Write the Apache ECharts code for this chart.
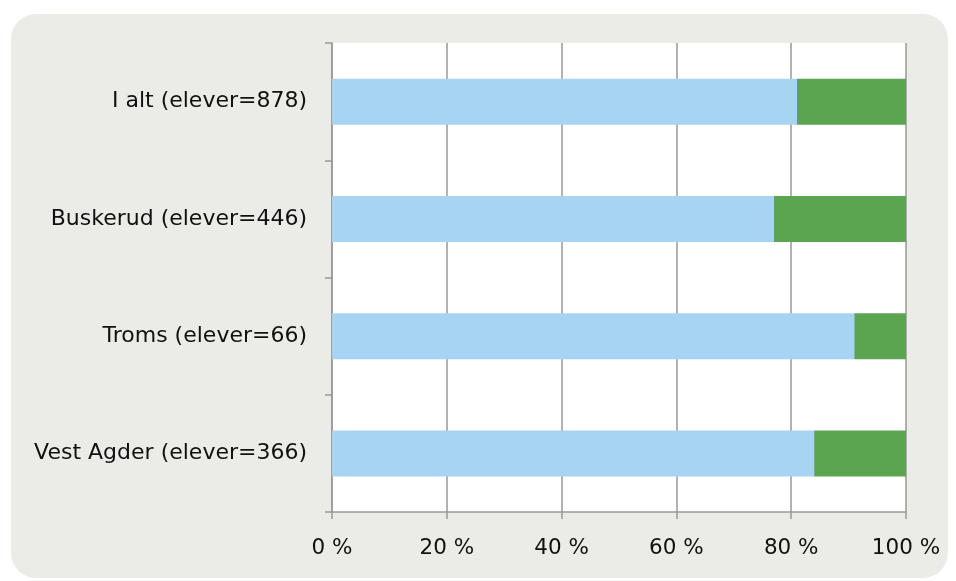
<!DOCTYPE html>
<html><head><meta charset="utf-8">
<script src="https://cdn.jsdelivr.net/npm/echarts@6/dist/echarts.min.js"></script>
<style>html,body{margin:0;padding:0;background:#fff}#c{width:956px;height:581px}</style>
</head><body><div id="c"></div>
<script>
const categories = ['I alt (elever=878)', 'Buskerud (elever=446)', 'Troms (elever=66)', 'Vest Agder (elever=366)'];
const seriesA = [81, 77, 91, 84];
const seriesB = [19, 23, 9, 16];
const xTicks = [0, 20, 40, 60, 80, 100];

const chart = echarts.init(document.getElementById('c'), null, {renderer: 'canvas'});
const font = "'DejaVu Sans', sans-serif";
chart.setOption({
  animation: false,
  graphic: [{
    type: 'rect', z: -10, silent: true,
    shape: {x: 11, y: 14, width: 937, height: 564, r: 25},
    style: {fill: '#EBEBE7'}
  }],
  grid: {left: 332, right: 50, top: 43, bottom: 69, show: true, backgroundColor: '#ffffff', borderWidth: 0},
  xAxis: {
    type: 'value', min: 0, max: 100, interval: 20,
    axisLine: {show: true, lineStyle: {color: '#999999', width: 1.5}},
    axisTick: {show: true, length: 7, lineStyle: {color: '#999999', width: 1.5}},
    splitLine: {show: true, lineStyle: {color: '#999999', width: 1.5}},
    axisLabel: {formatter: v => xTicks.includes(v) ? v + ' %' : '', color: '#111', fontFamily: font, fontSize: 21.5, margin: 25}
  },
  yAxis: {
    type: 'category', data: categories, inverse: true,
    axisLine: {show: true, lineStyle: {color: '#999999', width: 1.5}},
    axisTick: {show: true, length: 7, lineStyle: {color: '#999999', width: 1.5}},
    axisLabel: {color: '#111', fontFamily: font, fontSize: 22, margin: 25}
  },
  series: [
    {type: 'bar', stack: 's', data: seriesA, barWidth: 46, itemStyle: {color: '#A8D4F4'}},
    {type: 'bar', stack: 's', data: seriesB, barWidth: 46, itemStyle: {color: '#5BA550'}}
  ]
});
</script></body></html>
